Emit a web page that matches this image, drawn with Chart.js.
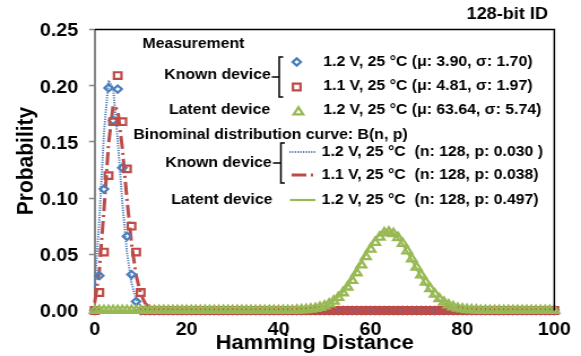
<!DOCTYPE html>
<html>
<head>
<meta charset="utf-8">
<script src="https://cdn.jsdelivr.net/npm/chart.js@4.4.0/dist/chart.umd.min.js"></script>
<style>
  html, body { margin: 0; padding: 0; background: #fff; }
</style>
</head>
<body>
<canvas id="chart" width="514" height="356" style="display:block;width:581px;height:356px"></canvas>
<script>
// Hamming distance categories shown on the x axis
const hd = Array.from({ length: 101 }, (_, i) => i);
const xTicks = [0, 20, 40, 60, 80, 100];
const yTicks = [0, 0.05, 0.10, 0.15, 0.20, 0.25];

// measured distributions (value per HD, starting at the given HD, zero elsewhere)
const measKnown12Start = 0;
const measKnown12 = [0, 0.031, 0.108, 0.198, 0.169, 0.197, 0.127, 0.066, 0.032, 0.008];
const measKnown11Start = 0;
const measKnown11 = [0, 0.016, 0.052, 0.120, 0.168, 0.209, 0.168, 0.126, 0.075, 0.052, 0.016];
const measLatentStart = 44;
const measLatent = [0.0003, 0.0005, 0.0008, 0.0012, 0.0018, 0.0027, 0.0040, 0.0058, 0.0083, 0.0115,
  0.0157, 0.0208, 0.0268, 0.0335, 0.0405, 0.0478, 0.0546, 0.0605, 0.0652, 0.0690,
  0.0698, 0.0684, 0.0648, 0.0596, 0.0530, 0.0458, 0.0386, 0.0316, 0.0252, 0.0194,
  0.0145, 0.0104, 0.0073, 0.0049, 0.0032, 0.0020, 0.0013, 0.0008, 0.0005, 0.0003];

// binomial curves B(n, p)
const binKnown12Start = 0;
const binKnown12 = [0.0203, 0.0803, 0.1576, 0.2047, 0.1979, 0.1518, 0.0962, 0.0519, 0.0243, 0.0100,
  0.0037, 0.0012, 0.0004, 0.0001];
const binKnown11Start = 0;
const binKnown11 = [0.0070, 0.0355, 0.0890, 0.1477, 0.1823, 0.1786, 0.1446, 0.0996, 0.0595, 0.0313,
  0.0147, 0.0062, 0.0024, 0.0008];
const binLatentStart = 44;
const binLatent = [0.0002, 0.0003, 0.0006, 0.0010, 0.0016, 0.0025, 0.0039, 0.0059, 0.0086, 0.0122,
  0.0167, 0.0222, 0.0286, 0.0357, 0.0432, 0.0506, 0.0576, 0.0634, 0.0677, 0.0701,
  0.0703, 0.0684, 0.0644, 0.0589, 0.0521, 0.0447, 0.0372, 0.0300, 0.0234, 0.0177,
  0.0130, 0.0092, 0.0064, 0.0043, 0.0028, 0.0017, 0.0011, 0.0006, 0.0004, 0.0002];

// legend texts
const measLabels = ['1.2 V, 25 °C (μ: 3.90, σ: 1.70)', '1.1 V, 25 °C (μ: 4.81, σ: 1.97)', '1.2 V, 25 °C (μ: 63.64, σ: 5.74)'];
const binLabels = ['1.2 V, 25 °C  (n: 128, p: 0.030 )', '1.1 V, 25 °C  (n: 128, p: 0.038)', '1.2 V, 25 °C  (n: 128, p: 0.497)'];

const BLUE = '#4a7ebb';
const RED = '#be4b48';
const GREEN = '#98b954';
const FONT = '"Liberation Sans", Arial, sans-serif';
const DOTS = [1.2, 1.2];
const DASHDOT = [13, 4, 2, 4];

// spread a short list over the whole 0..100 range, zeros elsewhere
function series(start, values) {
  return hd.map(x => ({ x, y: (x >= start && x - start < values.length) ? values[x - start] : 0 }));
}

function markerSet(label, start, values, style, radius, color, width) {
  return {
    label, data: series(start, values), showLine: false, order: 0, clip: false,
    pointStyle: style, pointRadius: radius, pointBorderWidth: width,
    pointBorderColor: color, pointBackgroundColor: 'rgba(0,0,0,0)', borderColor: color
  };
}

function curveSet(label, start, values, color, width, dash) {
  return {
    label, data: series(start, values), order: 1, clip: false,
    borderColor: color, borderWidth: width, borderDash: dash, pointRadius: 0, tension: 0
  };
}

function drawMarker(ctx, style, x, y, r, color, w) {
  ctx.save();
  ctx.strokeStyle = color;
  ctx.lineWidth = w;
  ctx.beginPath();
  if (style === 'rectRot') {
    ctx.moveTo(x, y - r); ctx.lineTo(x + r, y); ctx.lineTo(x, y + r); ctx.lineTo(x - r, y);
  } else if (style === 'rect') {
    const s = r * Math.SQRT1_2;
    ctx.rect(x - s, y - s, 2 * s, 2 * s);
  } else {
    ctx.moveTo(x, y - r);
    ctx.lineTo(x + r * Math.sin(Math.PI / 3), y + r / 2);
    ctx.lineTo(x - r * Math.sin(Math.PI / 3), y + r / 2);
  }
  ctx.closePath();
  ctx.stroke();
  ctx.restore();
}

function drawSample(ctx, x1, x2, y, color, w, dash) {
  ctx.save();
  ctx.strokeStyle = color;
  ctx.lineWidth = w;
  ctx.setLineDash(dash);
  ctx.beginPath(); ctx.moveTo(x1, y); ctx.lineTo(x2, y); ctx.stroke();
  ctx.restore();
}

function drawBracket(ctx, xDash, x, y1, y2) {
  const mid = (y1 + y2) / 2;
  ctx.beginPath();
  ctx.moveTo(xDash, mid); ctx.lineTo(x, mid);
  ctx.moveTo(x + 3.5, y1); ctx.lineTo(x, y1); ctx.lineTo(x, y2); ctx.lineTo(x + 3.5, y2);
  ctx.stroke();
}

const overlay = {
  id: 'overlay',
  afterDraw(chart) {
    const { ctx, chartArea: a } = chart;
    ctx.save();

    // plot frame, top and right
    ctx.strokeStyle = '#000';
    ctx.lineWidth = 1.5;
    ctx.beginPath();
    ctx.moveTo(a.left, a.top); ctx.lineTo(a.right, a.top); ctx.lineTo(a.right, a.bottom);
    ctx.stroke();

    ctx.fillStyle = '#000';
    ctx.textBaseline = 'middle';

    // axis titles
    ctx.font = 'bold 21px ' + FONT;
    ctx.textAlign = 'center';
    ctx.save();
    ctx.translate(23, 161);
    ctx.rotate(-Math.PI / 2);
    ctx.fillText('Probability', 0, 0);
    ctx.restore();
    ctx.font = 'bold 19.5px ' + FONT;
    ctx.fillText('Hamming Distance', 278.4, 344);

    ctx.font = 'bold 16px ' + FONT;
    ctx.textAlign = 'right';
    ctx.fillText('128-bit ID', 484.8, 15);

    // legend: measurement
    ctx.font = 'bold 14px ' + FONT;
    ctx.textAlign = 'left';
    ctx.fillText('Measurement', 126, 44);
    ctx.fillText(measLabels[0], 286, 62);
    ctx.fillText(measLabels[1], 286, 86);
    ctx.fillText(measLabels[2], 286, 110);
    ctx.textAlign = 'right';
    ctx.fillText('Known device', 239.5, 75);
    ctx.fillText('Latent device', 239, 110);
    ctx.lineWidth = 1.5;
    drawBracket(ctx, 240.5, 247, 57, 97);
    drawMarker(ctx, 'rectRot', 262.5, 62, 3.6, BLUE, 2.2);
    drawMarker(ctx, 'rect', 262.5, 87, 4.7, RED, 2.2);
    drawMarker(ctx, 'triangle', 264, 112, 4.8, GREEN, 2.3);

    // legend: binomial curves
    ctx.textAlign = 'left';
    ctx.fillText('Binominal distribution curve: B(n, p)', 118, 135);
    ctx.fillText(binLabels[0], 284.6, 152);
    ctx.fillText(binLabels[1], 284.6, 175);
    ctx.fillText(binLabels[2], 284.6, 200);
    ctx.textAlign = 'right';
    ctx.fillText('Known device', 240.4, 163);
    ctx.fillText('Latent device', 241, 200);
    drawBracket(ctx, 241.5, 248.5, 143, 183);
    drawSample(ctx, 256, 279, 152, BLUE, 2, DOTS);
    drawSample(ctx, 258, 279, 175, RED, 3, DASHDOT);
    drawSample(ctx, 256.5, 279, 200, GREEN, 2.2, []);

    ctx.restore();
  }
};

new Chart(document.getElementById('chart'), {
  type: 'line',
  data: {
    datasets: [
      markerSet('Latent device', measLatentStart, measLatent, 'triangle', 4.8, GREEN, 2.3),
      markerSet('Known device 1.1 V', measKnown11Start, measKnown11, 'rect', 4.7, RED, 2.2),
      markerSet('Known device 1.2 V', measKnown12Start, measKnown12, 'rectRot', 3.6, BLUE, 2.2),
      curveSet('B latent', binLatentStart, binLatent, GREEN, 2.2, []),
      curveSet('B known 1.1 V', binKnown11Start, binKnown11, RED, 3, DASHDOT),
      curveSet('B known 1.2 V', binKnown12Start, binKnown12, BLUE, 2, DOTS)
    ]
  },
  options: {
    responsive: false,
    devicePixelRatio: 1,
    animation: false,
    layout: { padding: { top: 29.5, right: 20.6, left: 0, bottom: 0 } },
    plugins: { legend: { display: false }, tooltip: { enabled: false } },
    scales: {
      x: {
        type: 'linear', min: 0, max: 100,
        afterFit: s => { s.height = 45.5; },
        afterBuildTicks: s => { s.ticks = xTicks.map(v => ({ value: v })); },
        border: { color: '#868686', width: 1.5 },
        grid: { display: false, drawTicks: false },
        ticks: { color: '#000', padding: 9, font: { family: FONT, size: 17.5, weight: 'bold' } }
      },
      y: {
        min: 0, max: 0.25,
        afterFit: s => { s.width = 83.8; },
        afterBuildTicks: s => { s.ticks = yTicks.map(v => ({ value: v })); },
        border: { color: '#868686', width: 2 },
        grid: { drawOnChartArea: false, drawTicks: true, tickLength: 5, color: '#868686', tickWidth: 1.5 },
        ticks: {
          color: '#000', padding: 9.5, labelOffset: 2, font: { family: FONT, size: 17.5, weight: 'bold' },
          callback: v => v.toFixed(2)
        }
      }
    }
  },
  plugins: [overlay]
});
</script>
</body>
</html>
